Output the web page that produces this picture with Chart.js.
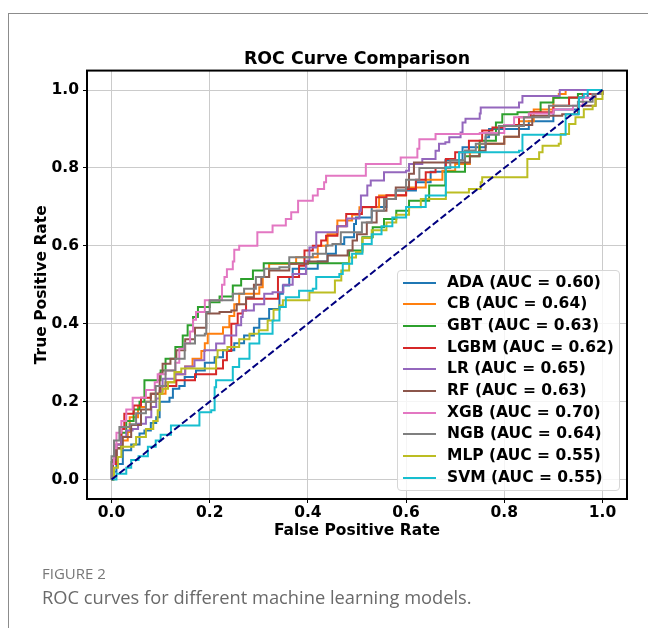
<!DOCTYPE html>
<html>
<head>
<meta charset="utf-8">
<script src="https://cdn.jsdelivr.net/npm/chart.js@4.4.0/dist/chart.umd.min.js"></script>
<style>
body { margin:0; width:648px; height:628px; background:#fff; overflow:hidden; position:relative; }
#frame { position:absolute; left:8px; top:13px; width:700px; height:700px; border-left:1px solid #8c8c8c; border-top:1px solid #8c8c8c; }
#roc { position:absolute; left:0; top:0; }
#legend { position:absolute; left:397px; top:270px; width:223px; height:221px; box-sizing:border-box;
  border:1px solid #d6d6d6; border-radius:4px; background:rgba(255,255,255,0.8); }
#legend .row { position:absolute; left:0; height:20px; width:100%; }
#legend .swatch { position:absolute; left:5px; top:9px; width:33px; height:2px; }
#legend .txt { position:absolute; left:49px; top:0; line-height:20px; font:bold 15.5px "DejaVu Sans"; color:#000; white-space:nowrap; }
#fig { position:absolute; left:42px; top:563px; font:15px "Open Sans"; color:#777; line-height:20px; }
#cap { position:absolute; left:42px; top:585px; font:18.3px "Open Sans"; color:#6a6a6a; line-height:24px; }
</style>
</head>
<body>
<div id="frame"></div>
<canvas id="roc" width="648" height="628"></canvas>
<div id="legend"></div>
<div id="fig">FIGURE 2</div>
<div id="cap">ROC curves for different machine learning models.</div>
<script>
// models, AUC scores and colours (matplotlib tab10)
var names = ["ADA", "CB", "GBT", "LGBM", "LR", "RF", "XGB", "NGB", "MLP", "SVM"];
var aucs = [0.60, 0.64, 0.63, 0.62, 0.65, 0.63, 0.70, 0.64, 0.55, 0.55];
var colors = ["#1f77b4", "#ff7f0e", "#2ca02c", "#d62728", "#9467bd", "#8c564b", "#e377c2", "#7f7f7f", "#bcbd22", "#17becf"];
var tickVals = [0, 0.2, 0.4, 0.6, 0.8, 1.0];

// [fpr, tpr] corners
var ada = [[0,0],[0.003,0.02],[0.01,0.04],[0.023,0.075],[0.04,0.09],[0.057,0.118],[0.067,0.126],[0.08,0.145],[0.091,0.16],[0.098,0.2],[0.118,0.21],[0.125,0.233],[0.138,0.24],[0.149,0.263],[0.172,0.28],[0.19,0.3],[0.21,0.314],[0.227,0.332],[0.25,0.35],[0.27,0.37],[0.29,0.39],[0.301,0.413],[0.321,0.438],[0.342,0.477],[0.349,0.498],[0.362,0.52],[0.369,0.541],[0.396,0.541],[0.42,0.56],[0.44,0.58],[0.457,0.605],[0.474,0.622],[0.494,0.656],[0.498,0.673],[0.53,0.7],[0.56,0.72],[0.579,0.742],[0.62,0.763],[0.65,0.79],[0.68,0.82],[0.715,0.853],[0.762,0.879],[0.769,0.9],[0.8,0.9],[0.85,0.92],[0.9,0.95],[0.952,0.981],[0.97,0.99],[1,1]];
var cb = [[0,0],[0.003,0.04],[0.01,0.08],[0.02,0.1],[0.033,0.122],[0.037,0.16],[0.054,0.186],[0.07,0.2],[0.09,0.22],[0.11,0.25],[0.13,0.27],[0.15,0.29],[0.165,0.31],[0.183,0.33],[0.19,0.35],[0.196,0.374],[0.227,0.391],[0.24,0.42],[0.25,0.45],[0.26,0.477],[0.274,0.477],[0.301,0.494],[0.308,0.52],[0.321,0.554],[0.342,0.554],[0.376,0.571],[0.396,0.571],[0.42,0.6],[0.44,0.63],[0.46,0.665],[0.474,0.665],[0.49,0.68],[0.505,0.699],[0.518,0.699],[0.545,0.729],[0.559,0.729],[0.6,0.75],[0.64,0.77],[0.674,0.793],[0.7,0.81],[0.73,0.84],[0.749,0.862],[0.776,0.862],[0.8,0.88],[0.83,0.92],[0.86,0.95],[0.9,0.98],[0.911,0.99],[0.925,1],[1,1]];
var gbt = [[0,0],[0,0.045],[0.01,0.08],[0.02,0.12],[0.03,0.15],[0.045,0.18],[0.057,0.2],[0.067,0.255],[0.087,0.255],[0.1,0.28],[0.11,0.31],[0.13,0.34],[0.145,0.37],[0.155,0.396],[0.166,0.417],[0.176,0.443],[0.2,0.455],[0.22,0.47],[0.247,0.498],[0.264,0.515],[0.288,0.537],[0.31,0.555],[0.467,0.555],[0.484,0.588],[0.498,0.588],[0.511,0.622],[0.532,0.648],[0.555,0.669],[0.58,0.69],[0.606,0.716],[0.647,0.716],[0.647,0.755],[0.68,0.79],[0.72,0.83],[0.75,0.87],[0.783,0.917],[0.796,0.938],[0.827,0.943],[0.874,0.968],[0.9,0.98],[0.95,0.99],[1,1]];
var lgbm = [[0,0],[0.003,0.04],[0.01,0.09],[0.02,0.13],[0.026,0.169],[0.045,0.19],[0.06,0.21],[0.08,0.22],[0.1,0.24],[0.132,0.255],[0.149,0.255],[0.17,0.27],[0.213,0.285],[0.22,0.285],[0.227,0.306],[0.235,0.33],[0.244,0.37],[0.244,0.4],[0.257,0.426],[0.267,0.434],[0.274,0.464],[0.335,0.464],[0.339,0.52],[0.382,0.532],[0.382,0.549],[0.393,0.588],[0.41,0.6],[0.427,0.614],[0.437,0.626],[0.46,0.65],[0.478,0.682],[0.494,0.682],[0.51,0.7],[0.539,0.725],[0.56,0.73],[0.6,0.746],[0.62,0.77],[0.64,0.789],[0.66,0.8],[0.681,0.823],[0.7,0.84],[0.728,0.87],[0.742,0.87],[0.755,0.896],[0.776,0.904],[0.8,0.91],[0.83,0.93],[0.854,0.943],[0.864,0.943],[0.9,0.96],[0.932,0.981],[0.96,0.99],[1,1]];
var lr = [[0,0],[0.003,0.05],[0.01,0.09],[0.02,0.11],[0.03,0.126],[0.043,0.13],[0.054,0.143],[0.07,0.16],[0.081,0.186],[0.091,0.208],[0.098,0.228],[0.104,0.259],[0.13,0.27],[0.15,0.29],[0.169,0.306],[0.189,0.332],[0.213,0.349],[0.23,0.37],[0.254,0.396],[0.264,0.417],[0.267,0.434],[0.29,0.45],[0.311,0.477],[0.328,0.481],[0.35,0.5],[0.369,0.528],[0.396,0.562],[0.403,0.596],[0.417,0.635],[0.444,0.635],[0.46,0.65],[0.48,0.67],[0.505,0.69],[0.508,0.729],[0.521,0.755],[0.528,0.768],[0.552,0.768],[0.555,0.789],[0.6,0.793],[0.606,0.81],[0.633,0.823],[0.66,0.844],[0.667,0.862],[0.68,0.866],[0.688,0.879],[0.711,0.891],[0.715,0.917],[0.721,0.926],[0.75,0.94],[0.752,0.955],[0.827,0.955],[0.83,0.968],[0.837,0.985],[0.913,0.985],[0.913,1],[1,1]];
var rf = [[0,0],[0.003,0.05],[0.01,0.08],[0.023,0.109],[0.04,0.14],[0.06,0.18],[0.08,0.22],[0.098,0.272],[0.104,0.297],[0.12,0.31],[0.132,0.332],[0.15,0.36],[0.17,0.39],[0.193,0.426],[0.22,0.43],[0.244,0.434],[0.255,0.45],[0.274,0.468],[0.29,0.5],[0.305,0.52],[0.321,0.537],[0.335,0.537],[0.362,0.554],[0.4,0.56],[0.44,0.575],[0.471,0.575],[0.481,0.588],[0.491,0.614],[0.5,0.63],[0.52,0.66],[0.54,0.69],[0.56,0.72],[0.579,0.75],[0.606,0.785],[0.616,0.814],[0.715,0.814],[0.73,0.83],[0.749,0.844],[0.762,0.862],[0.8,0.88],[0.83,0.91],[0.857,0.934],[0.918,0.938],[0.95,0.96],[0.986,0.99],[1,1]];
var xgb = [[0,0],[0,0.04],[0.005,0.08],[0.01,0.12],[0.02,0.15],[0.03,0.18],[0.043,0.21],[0.06,0.21],[0.07,0.23],[0.088,0.25],[0.094,0.27],[0.11,0.28],[0.13,0.3],[0.138,0.336],[0.149,0.35],[0.16,0.38],[0.166,0.41],[0.172,0.43],[0.19,0.46],[0.22,0.46],[0.225,0.5],[0.23,0.52],[0.235,0.54],[0.247,0.56],[0.25,0.59],[0.26,0.6],[0.294,0.6],[0.297,0.635],[0.328,0.652],[0.355,0.669],[0.366,0.686],[0.38,0.716],[0.41,0.729],[0.42,0.746],[0.433,0.763],[0.437,0.78],[0.518,0.78],[0.518,0.81],[0.589,0.81],[0.589,0.827],[0.623,0.849],[0.627,0.874],[0.66,0.887],[0.75,0.89],[0.8,0.91],[0.82,0.93],[0.85,0.94],[0.9,0.95],[0.94,0.96],[0.96,0.98],[0.98,0.99],[1,1]];
var ngb = [[0,0],[0,0.06],[0.005,0.1],[0.016,0.135],[0.037,0.142],[0.05,0.17],[0.07,0.2],[0.09,0.24],[0.11,0.28],[0.13,0.31],[0.149,0.349],[0.17,0.37],[0.19,0.374],[0.193,0.43],[0.2,0.46],[0.244,0.46],[0.247,0.477],[0.27,0.49],[0.294,0.52],[0.311,0.541],[0.342,0.545],[0.362,0.571],[0.393,0.571],[0.41,0.58],[0.437,0.601],[0.45,0.605],[0.467,0.635],[0.494,0.635],[0.51,0.66],[0.53,0.69],[0.555,0.72],[0.579,0.742],[0.6,0.77],[0.627,0.8],[0.66,0.8],[0.69,0.82],[0.72,0.845],[0.742,0.862],[0.762,0.885],[0.789,0.908],[0.84,0.93],[0.891,0.96],[0.925,0.96],[0.95,0.97],[0.98,0.99],[1,1]];
var mlp = [[0,0],[0.005,0.03],[0.013,0.058],[0.02,0.084],[0.037,0.084],[0.045,0.09],[0.05,0.109],[0.07,0.13],[0.085,0.15],[0.094,0.178],[0.098,0.22],[0.104,0.233],[0.115,0.25],[0.128,0.276],[0.142,0.285],[0.21,0.285],[0.213,0.314],[0.216,0.332],[0.236,0.34],[0.26,0.36],[0.281,0.374],[0.3,0.383],[0.318,0.408],[0.33,0.436],[0.342,0.447],[0.349,0.46],[0.4,0.46],[0.403,0.48],[0.45,0.48],[0.455,0.511],[0.468,0.537],[0.484,0.57],[0.498,0.584],[0.511,0.62],[0.53,0.64],[0.56,0.66],[0.58,0.68],[0.606,0.699],[0.63,0.72],[0.681,0.737],[0.728,0.746],[0.752,0.763],[0.755,0.776],[0.844,0.776],[0.847,0.823],[0.871,0.84],[0.878,0.857],[0.911,0.862],[0.915,0.887],[0.932,0.913],[0.945,0.93],[0.962,0.951],[0.98,0.96],[0.986,0.977],[1,1]];
var svm = [[0,0],[0.01,0.015],[0.023,0.015],[0.03,0.03],[0.04,0.05],[0.055,0.06],[0.074,0.084],[0.09,0.1],[0.1,0.115],[0.121,0.139],[0.165,0.139],[0.179,0.173],[0.203,0.178],[0.21,0.237],[0.213,0.255],[0.244,0.255],[0.247,0.289],[0.26,0.31],[0.281,0.349],[0.301,0.374],[0.328,0.408],[0.342,0.443],[0.355,0.468],[0.382,0.485],[0.41,0.49],[0.417,0.52],[0.464,0.528],[0.471,0.554],[0.49,0.58],[0.511,0.605],[0.53,0.63],[0.55,0.65],[0.572,0.673],[0.6,0.7],[0.64,0.729],[0.678,0.729],[0.681,0.802],[0.708,0.84],[0.83,0.844],[0.837,0.885],[0.92,0.885],[0.925,0.938],[0.945,0.938],[0.952,0.981],[0.962,0.99],[0.97,1],[1,1]];
var chance = [[0,0],[1,1]];

var curves = [ada, cb, gbt, lgbm, lr, rf, xgb, ngb, mlp, svm];

function toXY(arr) {
	return arr.map(function(p){ return {x: p[0], y: p[1]}; });
}

var datasets = [];
for (var i = 0; i < names.length; i++) {
	datasets.push({
		label: names[i] + " (AUC = " + aucs[i].toFixed(2) + ")",
		data: toXY(curves[i]),
		borderColor: colors[i],
		borderWidth: 2,
		pointRadius: 0,
		stepped: "before",
		fill: false,
		order: names.length - i + 1 // later models on top, like matplotlib
	});
}
datasets.push({
	label: "chance",
	data: toXY(chance),
	borderColor: "#000080",
	borderWidth: 2,
	borderDash: [7, 3],
	pointRadius: 0,
	fill: false,
	order: 0
});

// black box round the plot area
var spines = {
	id: "spines",
	afterDatasetsDraw: function(chart) {
		var a = chart.chartArea, c = chart.ctx;
		c.save();
		c.strokeStyle = "#000";
		c.lineWidth = 2;
		c.strokeRect(a.left, a.top, a.right - a.left, a.bottom - a.top);
		c.restore();
	}
};

var tickFont = {family: "DejaVu Sans", size: 15.5, weight: "bold"};
var labelFont = {family: "DejaVu Sans", size: 15.5, weight: "bold"};

new Chart(document.getElementById("roc"), {
	type: "line",
	data: {datasets: datasets},
	plugins: [spines],
	options: {
		responsive: false,
		animation: false,
		layout: {padding: {left: 0, right: 21, top: 49, bottom: 87}},
		plugins: {
			legend: {display: false},
			tooltip: {enabled: false},
			title: {
				display: true, fullSize: false, text: "ROC Curve Comparison", color: "#000",
				font: {family: "DejaVu Sans", size: 17.4, weight: "bold"},
				padding: {top: 0.2, bottom: 0.5}
			}
		},
		scales: {
			x: {
				type: "linear", min: -0.05, max: 1.05,
				afterFit: function(s){ s.height = 42; },
				afterBuildTicks: function(s){ s.ticks = tickVals.map(function(v){ return {value: v}; }); },
				ticks: {color: "#000", font: tickFont, padding: 1, maxRotation: 0, autoSkip: false,
					callback: function(v){ return v.toFixed(1); }},
				grid: {color: "#cbcbcb", lineWidth: 1, tickColor: "#000", tickLength: 4},
				border: {display: false},
				title: {display: true, text: "False Positive Rate", color: "#000", font: labelFont, padding: {top: 0, bottom: 0.7}}
			},
			y: {
				type: "linear", min: -0.05, max: 1.05,
				afterFit: function(s){ s.width = 87; },
				afterBuildTicks: function(s){ s.ticks = tickVals.map(function(v){ return {value: v}; }); },
				ticks: {color: "#000", font: tickFont, padding: 4, autoSkip: false,
					callback: function(v){ return v.toFixed(1); }},
				grid: {color: "#cbcbcb", lineWidth: 1, tickColor: "#000", tickLength: 4},
				border: {display: false},
				title: {display: true, text: "True Positive Rate", color: "#000", font: labelFont, padding: {top: 32.7, bottom: 0}}
			}
		}
	}
});

// legend box drawn as html over the plot
var legend = document.getElementById("legend");
for (var k = 0; k < names.length; k++) {
	var row = document.createElement("div");
	row.className = "row";
	row.style.top = (1.7 + k * 21.67) + "px";
	row.innerHTML = "<div class='swatch' style='background:" + colors[k] + "'></div><div class='txt'>" + datasets[k].label + "</div>";
	legend.appendChild(row);
}
</script>
</body>
</html>
